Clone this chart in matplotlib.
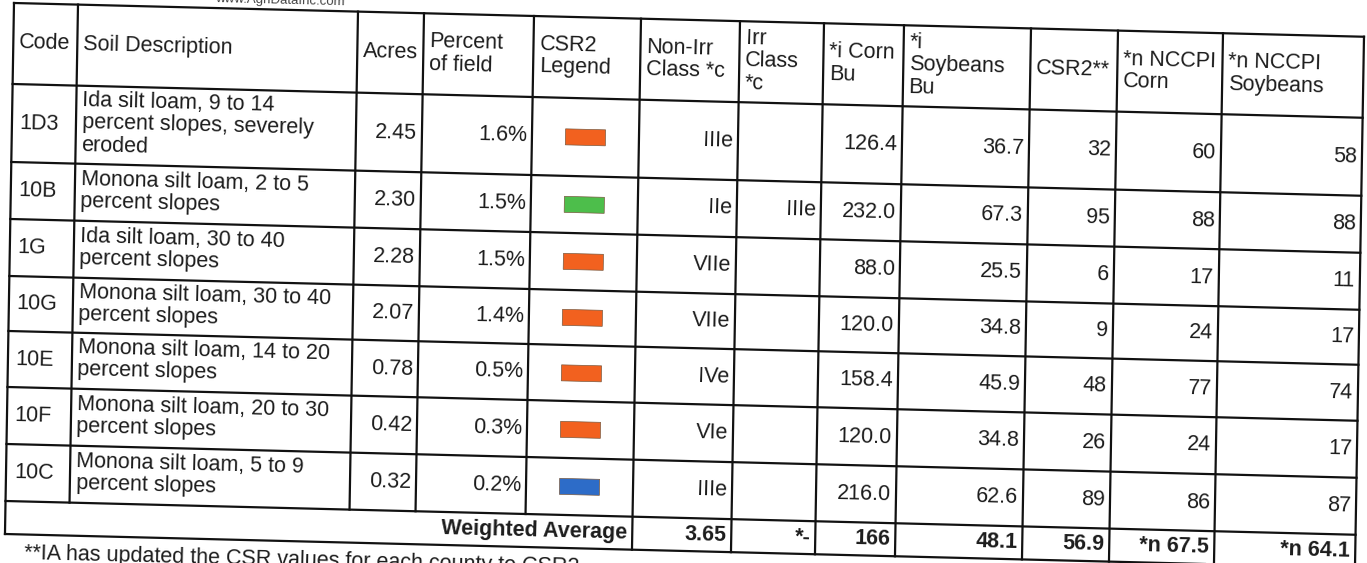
import matplotlib
matplotlib.use("Agg")
import matplotlib.pyplot as plt
from matplotlib.transforms import Affine2D
from matplotlib.patches import Rectangle
import numpy as np

# ---------------- data ----------------
headers = ["Code", "Soil Description", "Acres", "Percent\nof field", "CSR2\nLegend",
           "Non-Irr\nClass *c", "Irr\nClass\n*c", "*i Corn\nBu", "*i\nSoybeans\nBu",
           "CSR2**", "*n NCCPI\nCorn", "*n NCCPI\nSoybeans"]
codes = ["1D3", "10B", "1G", "10G", "10E", "10F", "10C"]
descriptions = ["Ida silt loam, 9 to 14\npercent slopes, severely\neroded",
                "Monona silt loam, 2 to 5\npercent slopes",
                "Ida silt loam, 30 to 40\npercent slopes",
                "Monona silt loam, 30 to 40\npercent slopes",
                "Monona silt loam, 14 to 20\npercent slopes",
                "Monona silt loam, 20 to 30\npercent slopes",
                "Monona silt loam, 5 to 9\npercent slopes"]
acres = [2.45, 2.30, 2.28, 2.07, 0.78, 0.42, 0.32]
percent_of_field = [1.6, 1.5, 1.5, 1.4, 0.5, 0.3, 0.2]
legend_colors = ["#F2611F", "#4DBE4B", "#F2611F", "#F2611F", "#F2611F", "#F2611F", "#2D6CC8"]
non_irr_class = ["IIIe", "IIe", "VIIe", "VIIe", "IVe", "VIe", "IIIe"]
irr_class = ["", "IIIe", "", "", "", "", ""]
corn_bu = [126.4, 232.0, 88.0, 120.0, 158.4, 120.0, 216.0]
soy_bu = [36.7, 67.3, 25.5, 34.8, 45.9, 34.8, 62.6]
csr2 = [32, 95, 6, 9, 48, 26, 89]
nccpi_corn = [60, 88, 17, 24, 77, 24, 86]
nccpi_soy = [58, 88, 11, 17, 74, 17, 87]
weighted_label = "Weighted Average"
weighted_values = ["3.65", "*-", "166", "48.1", "56.9", "*n 67.5", "*n 64.1"]
footnote = "**IA has updated the CSR values for each county to CSR2"
watermark = "www.AgriDataInc.com"

# ---------------- layout ----------------
W, H = 1367, 563
fig = plt.figure(figsize=(W / 100, H / 100), dpi=100)
fig.patch.set_facecolor("white")
ax = fig.add_axes([0, 0, 1, 1])
ax.set_xlim(0, W)
ax.set_ylim(H, 0)
ax.axis("off")

SLOPE = 0.025
SHEAR = -0.017
T = Affine2D(np.array([[1.0, SHEAR, 14.0], [SLOPE, 1.0, 3.0], [0, 0, 1]])) + ax.transData
ROT = -np.degrees(np.arctan(SLOPE))

col_edges = [0, 64, 344, 410, 520, 627, 726, 810, 890, 1017, 1104, 1209, 1350]
row_edges = [0, 81, 159, 216, 273, 328, 384, 441, 498, 531]

FONT = "Liberation Sans"
FS = 15.5
TXT = "#1c1c1c"
LW = 1.6


def line(x0, y0, x1, y1):
    ax.plot([x0, x1], [y0, y1], transform=T, color="#111111", lw=LW,
            solid_capstyle="projecting")


def txt(x, y, s, ha="left", va="center", bold=False, fs=FS, color=TXT, ls=1.08):
    ax.text(x, y, s, transform=T, ha=ha, va=va, rotation=ROT, rotation_mode="anchor",
            fontsize=fs, family=FONT, color=color, linespacing=ls,
            fontweight="bold" if bold else "normal")


# grid lines
top, bot = row_edges[0], row_edges[-1]
for y in row_edges:
    line(col_edges[0], y, col_edges[-1], y)
for i, x in enumerate(col_edges):
    if 0 < i < 5:
        line(x, top, x, row_edges[-2])
    else:
        line(x, top, x, bot)

# header
for i, h in enumerate(headers):
    txt(col_edges[i] + 6, (row_edges[0] + row_edges[1]) / 2 - 1, h)

# body rows
pad = 5
for r in range(len(codes)):
    y0, y1 = row_edges[r + 1], row_edges[r + 2]
    yc = (y0 + y1) / 2
    txt(col_edges[0] + 8, yc, codes[r])
    txt(col_edges[1] + 6, yc - 2, descriptions[r])
    txt(col_edges[3] - pad, yc, f"{acres[r]:.2f}", ha="right")
    txt(col_edges[4] - pad, yc, f"{percent_of_field[r]:.1f}%", ha="right")
    cx = (col_edges[4] + col_edges[5]) / 2
    ax.add_patch(Rectangle((cx - 20, yc - 8), 40, 16, transform=T,
                           facecolor=legend_colors[r], edgecolor="#7a5a40", lw=0.5))
    txt(col_edges[6] - pad, yc, non_irr_class[r], ha="right")
    if irr_class[r]:
        txt(col_edges[7] - pad, yc, irr_class[r], ha="right")
    txt(col_edges[8] - pad, yc, f"{corn_bu[r]:.1f}", ha="right")
    txt(col_edges[9] - pad, yc, f"{soy_bu[r]:.1f}", ha="right")
    txt(col_edges[10] - pad, yc, f"{csr2[r]}", ha="right")
    txt(col_edges[11] - pad, yc, f"{nccpi_corn[r]}", ha="right")
    txt(col_edges[12] - pad, yc, f"{nccpi_soy[r]}", ha="right")

# weighted average row
yc = (row_edges[-2] + row_edges[-1]) / 2
txt(col_edges[5] - pad, yc, weighted_label, ha="right", bold=True)
for j, v in enumerate(weighted_values):
    txt(col_edges[6 + j] - pad, yc, v, ha="right", bold=True)

# footnote and cut-off watermark
txt(20, 556, footnote, va="baseline")
txt(266, -6, watermark, ha="center", va="baseline", fs=9.5, color="#444444")

fig.savefig("out.png", dpi=100, facecolor="white")
